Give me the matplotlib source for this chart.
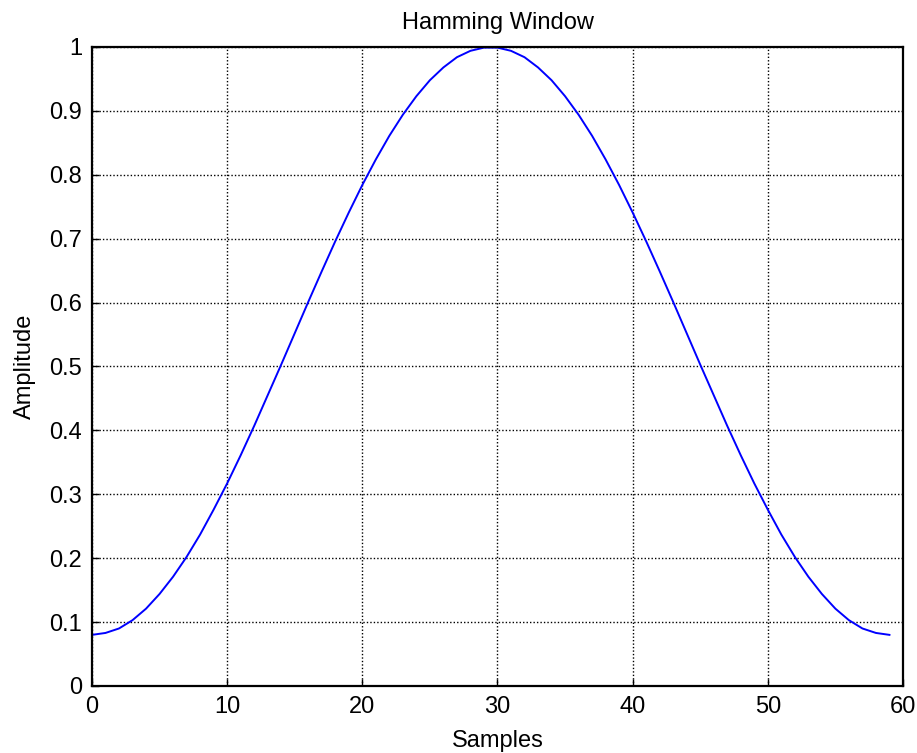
import numpy as np
import matplotlib
matplotlib.use('Agg')
import matplotlib.pyplot as plt

plt.rcParams['font.family'] = ['Liberation Sans', 'DejaVu Sans']

# window values, samples 0..59 (symmetric)
half = [0.080, 0.083, 0.090, 0.103, 0.121, 0.144, 0.171, 0.202, 0.237, 0.276,
        0.317, 0.361, 0.407, 0.455, 0.503, 0.552, 0.601, 0.649, 0.696, 0.741,
        0.784, 0.824, 0.861, 0.894, 0.923, 0.948, 0.968, 0.984, 0.994, 0.999]
amplitude = half + half[::-1]
samples = list(range(len(amplitude)))

xticks = [0, 10, 20, 30, 40, 50, 60]
yticks = [0, 0.1, 0.2, 0.3, 0.4, 0.5, 0.6, 0.7, 0.8, 0.9, 1]
ylabels = ['0', '0.1', '0.2', '0.3', '0.4', '0.5', '0.6', '0.7', '0.8', '0.9', '1']

fig = plt.figure(figsize=(9.17, 7.53), dpi=100)
ax = fig.add_axes([0.1003, 0.089, 0.8844, 0.8486])

ax.plot(samples, amplitude, color='#0000ff', linewidth=1.4)

ax.set_xlim(0, 60)
ax.set_ylim(0, 1)
ax.set_xticks(xticks)
ax.set_yticks(yticks)
ax.set_yticklabels(ylabels)
ax.grid(True, color='black', linestyle=(0, (1.0, 1.5)), linewidth=1.0)
ax.tick_params(direction='in', length=5, width=1, labelsize=17, pad=7)
for s in ax.spines.values():
    s.set_linewidth(1.6)

ax.set_title('Hamming Window', fontsize=17, pad=13)
ax.set_xlabel('Samples', fontsize=17, labelpad=9)
ax.set_ylabel('Amplitude', fontsize=17, labelpad=10)

fig.savefig('out.png', dpi=100)
